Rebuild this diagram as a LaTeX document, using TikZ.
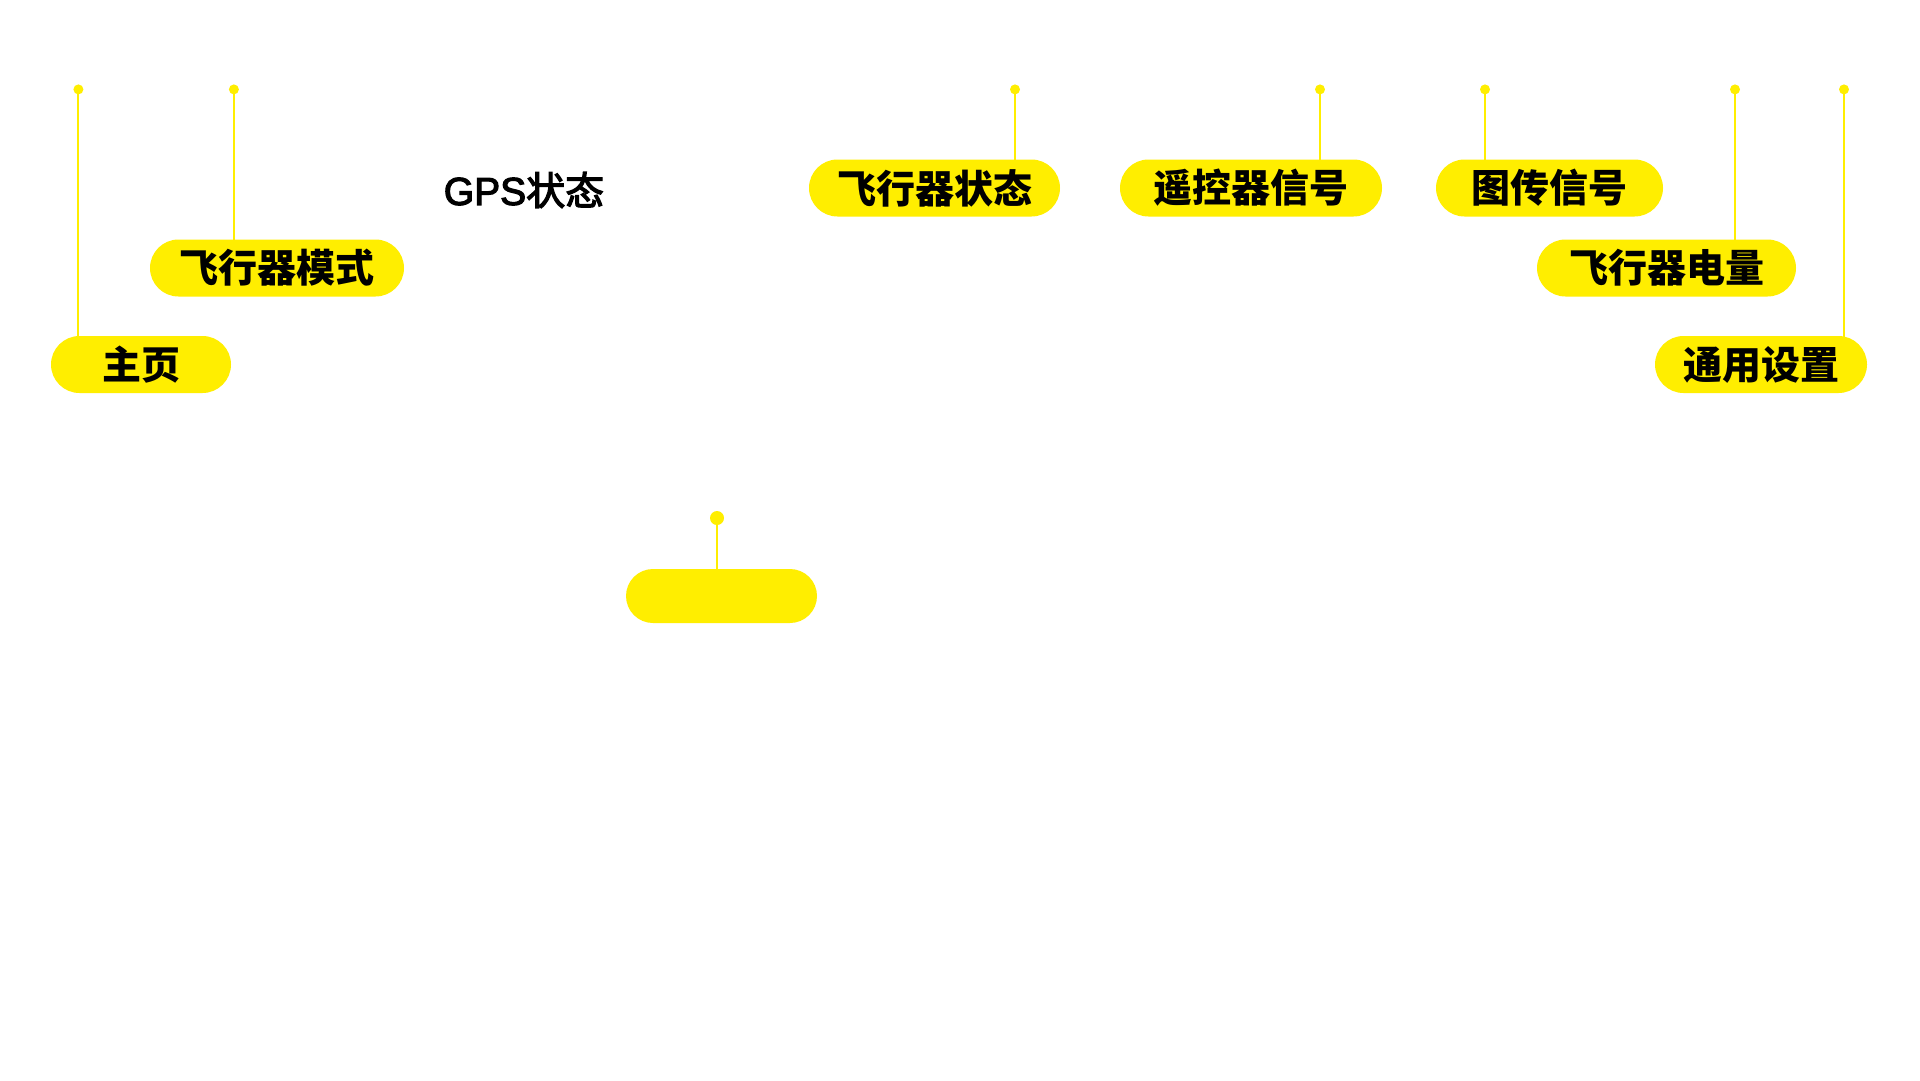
\documentclass[tikz,border=0pt]{standalone}
\usepackage{fontspec}
\newfontfamily\cjk{Noto Sans CJK SC}
\newfontfamily\cjkgps[FakeBold=3]{Noto Sans CJK SC}
\newfontfamily\latgps[FakeBold=3]{Liberation Sans}
\usetikzlibrary{backgrounds}
\definecolor{ylw}{RGB}{255,238,0}
\begin{document}
\begin{tikzpicture}[x=1pt,y=-1pt,
  pill/.style={fill=ylw, rounded corners=28.5pt, minimum height=57pt, inner sep=0pt,
    font=\cjk\bfseries\fontsize{39}{39}\selectfont, text=black},
  dot/.style={circle, fill=ylw, inner sep=0pt, minimum size=10pt},
  bigdot/.style={dot, minimum size=14pt},
  lead/.style={draw=ylw, line width=2pt},
  plain/.style={font=\fontsize{39}{39}\selectfont, text=black, inner sep=0pt}]
\useasboundingbox (0,0) rectangle (1920,1080);
% pills
\node[pill, minimum width=180pt] (p1) at (141,364.5) {主页};
\node[pill, minimum width=254pt] (p2) at (277,268) {飞行器模式};
\node[pill, minimum width=251pt] (p3) at (934.5,188) {飞行器状态};
\node[pill, minimum width=262pt] (p4) at (1251,188) {遥控器信号};
\node[pill, minimum width=227pt] (p5) at (1549.5,188) {图传信号};
\node[pill, minimum width=259pt] (p6) at (1666.5,268) {飞行器电量};
\node[pill, minimum width=212pt] (p7) at (1761,364.5) {通用设置};
\node[pill, minimum width=191pt, minimum height=54pt, rounded corners=27pt] (p8) at (721.5,596) {};
\node[plain] (gps) at (524,190) {{\latgps GPS}{\cjkgps 状态}};
% dots
\node[dot] (d1) at (78.4,89.4) {};
\node[dot] (d2) at (233.9,89.4) {};
\node[dot] (d3) at (1015,89.4) {};
\node[dot] (d4) at (1320,89.4) {};
\node[dot] (d5) at (1485,89.4) {};
\node[dot] (d6) at (1735,89.4) {};
\node[dot] (d7) at (1844,89.4) {};
\node[bigdot] (d8) at (717,518) {};
% leader lines
\begin{scope}[on background layer]
  \fill[white] (0,0) rectangle (1920,1080);
  \draw[lead] (d1.center) -- (d1 |- p1.center);
  \draw[lead] (d2.center) -- (d2 |- p2.center);
  \draw[lead] (d3.center) -- (d3 |- p3.center);
  \draw[lead] (d4.center) -- (d4 |- p4.center);
  \draw[lead] (d5.center) -- (d5 |- p5.center);
  \draw[lead] (d6.center) -- (d6 |- p6.center);
  \draw[lead] (d7.center) -- (d7 |- p7.center);
  \draw[lead] (d8.center) -- (d8 |- p8.center);
\end{scope}
\end{tikzpicture}
\end{document}
